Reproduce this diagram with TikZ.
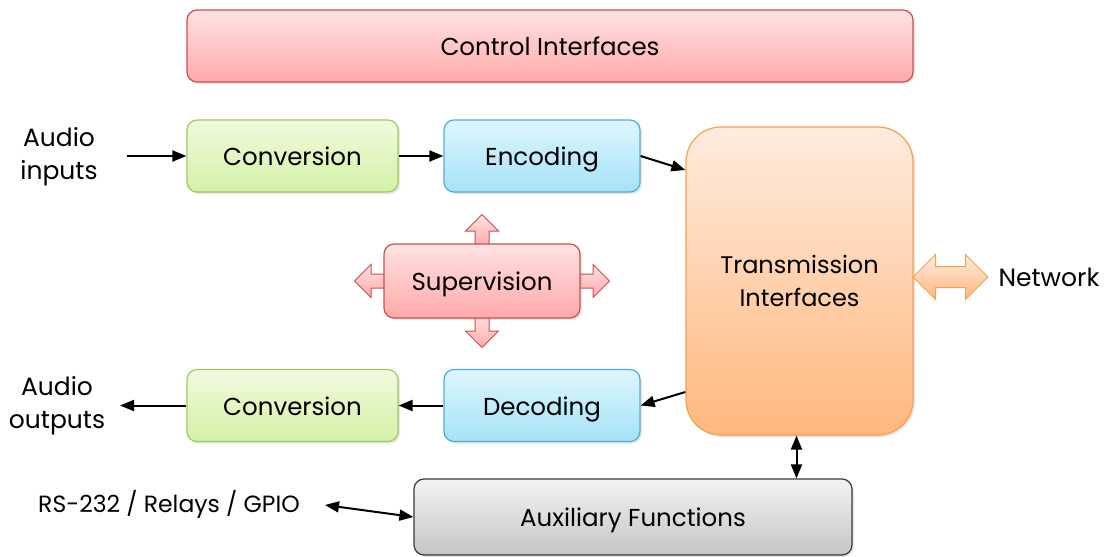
\documentclass[tikz,border=0pt]{standalone}
\usepackage{fontspec}
\setmainfont{Poppins}
\usetikzlibrary{arrows.meta,shapes.arrows,shadows}

\definecolor{redtop}{HTML}{FFE3E3}
\definecolor{redbot}{HTML}{FFA9A9}
\definecolor{redline}{HTML}{C9514F}
\definecolor{greentop}{HTML}{F1FADF}
\definecolor{greenbot}{HTML}{D3F1A6}
\definecolor{greenline}{HTML}{9FCC60}
\definecolor{bluetop}{HTML}{DEF6FD}
\definecolor{bluebot}{HTML}{A5E2F7}
\definecolor{blueline}{HTML}{52B0CF}
\definecolor{orangetop}{HTML}{FFECDF}
\definecolor{orangebot}{HTML}{FFB77C}
\definecolor{orangeline}{HTML}{F2A052}
\definecolor{graytop}{HTML}{F3F3F3}
\definecolor{graybot}{HTML}{C5C5C5}
\definecolor{grayline}{HTML}{3A3A3A}

\tikzset{
  blk/.style={draw, rounded corners=10pt, line width=1.2pt, minimum height=72pt,
    font=\fontsize{24.5}{33}\selectfont, text height=21pt, text depth=2pt,
    drop shadow={opacity=0.2, shadow xshift=2pt, shadow yshift=-2pt}},
  redblk/.style={blk, draw=redline, top color=redtop, bottom color=redbot},
  greenblk/.style={blk, draw=greenline, top color=greentop, bottom color=greenbot, minimum width=211pt},
  blueblk/.style={blk, draw=blueline, top color=bluetop, bottom color=bluebot, minimum width=196pt},
  orangeblk/.style={blk, draw=orangeline, top color=orangetop, bottom color=orangebot},
  grayblk/.style={blk, draw=grayline, top color=graytop, bottom color=graybot},
  txt/.style={font=\fontsize{25}{33}\selectfont, align=center},
  arr/.style={line width=2pt, -{Triangle[length=14pt,width=11pt]}},
  dbl/.style={line width=2pt, {Triangle[length=14pt,width=11pt]}-{Triangle[length=14pt,width=11pt]}},
  fatarrow/.style={single arrow, draw=redline, line width=1pt, top color=redtop, bottom color=redbot,
    inner sep=6.5pt, single arrow head extend=9.5pt, minimum height=32pt, anchor=tail}
}

\begin{document}
\begin{tikzpicture}[x=1pt,y=-1pt]
\useasboundingbox (0,0) rectangle (1109,557);

\node[redblk, minimum width=726pt] (ctrl) at (550,46) {Control Interfaces};

\node[greenblk] (convin) at (292.5,156) {Conversion};
\node[blueblk] (enc) at (542,156) {Encoding};
\node[txt] (ain) at (59,157) {Audio\\inputs};

\node[orangeblk, minimum width=227pt, minimum height=308pt, rounded corners=35pt, align=center,
  text height=, text depth=, font=\fontsize{24}{33}\selectfont] (trans) at (799.5,281) {Transmission\\Interfaces};

% supervision with its four arrows
\coordinate (supc) at (482,281);
\node[fatarrow, shape border rotate=90] (supup) at ([yshift=34pt]supc) {};
\node[fatarrow, shape border rotate=270] (supdown) at ([yshift=-34pt]supc) {};
\node[fatarrow, shape border rotate=180] (supleft) at ([xshift=-95pt]supc) {};
\node[fatarrow, shape border rotate=0] (supright) at ([xshift=95pt]supc) {};
\node[redblk, minimum width=196pt, minimum height=74pt] (sup) at (supc) {Supervision};

\node[greenblk] (convout) at (292.5,405.5) {Conversion};
\node[blueblk] (dec) at (542,405.5) {Decoding};
\node[txt] (aout) at (57,406) {Audio\\outputs};

\node[grayblk, minimum width=438pt, minimum height=76pt] (aux) at (633,517) {Auxiliary Functions};
\node[txt, font=\fontsize{23.5}{28}\selectfont] (rs) at (169,504) {RS-232 / Relays / GPIO};

\node[double arrow, draw=orangeline, line width=1pt, top color=orangetop, bottom color=orangebot,
  inner sep=10pt, double arrow head extend=12pt, minimum height=75pt] (netarr) at (950.5,277) {};
\node[txt] (net) at (1049,277) {Network};

\draw[arr] (127,156) -- (convin.west);
\draw[arr] (convin.east) -- (enc.west);
\draw[arr] (enc.east) -- ([yshift=111pt]trans.west);
\draw[arr] ([yshift=-111pt]trans.west) -- (dec.east);
\draw[arr] (dec.west) -- (convout.east);
\draw[arr] (convout.west) -- (120,405.5);
\draw[dbl] ([xshift=-3pt]trans.south) -- ([xshift=-3pt]trans.south |- aux.north);
\draw[dbl] (325,505) -- (aux.west);
\end{tikzpicture}
\end{document}
